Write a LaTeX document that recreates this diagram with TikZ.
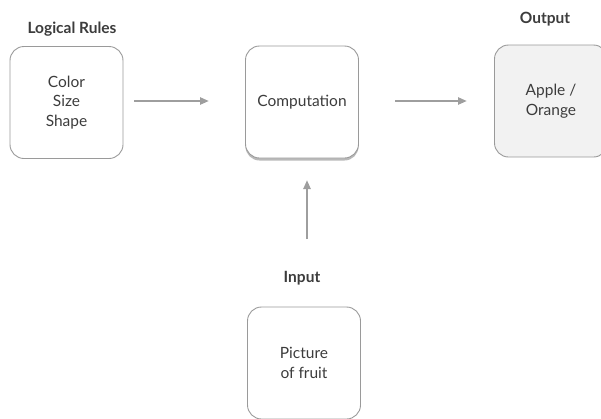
\documentclass[tikz,border=0pt]{standalone}
\usepackage{fontspec}
\setmainfont{Lato}
\usetikzlibrary{shadows,arrows.meta}
\definecolor{txt}{HTML}{3C3C3C}
\definecolor{edge}{HTML}{9A9A9A}
\definecolor{arr}{HTML}{9E9E9E}
\definecolor{outfill}{HTML}{F2F2F2}
\tikzset{
  box/.style={draw=edge, line width=0.9pt, rounded corners=14pt, minimum width=113pt, minimum height=112pt, align=center, text=txt, font=\fontsize{15.5}{19.5}\selectfont, inner sep=0pt},
  title/.style={text=txt, font=\bfseries\fontsize{15.5}{18}\selectfont, inner sep=0pt},
  conn/.style={draw=arr, line width=2.4pt, -{Triangle[length=9pt,width=7pt]}}
}
\begin{document}
\begin{tikzpicture}[x=1pt,y=-1pt]
\useasboundingbox (0,0) rectangle (601,418);
\clip (0,0) rectangle (601,418);
\node[box] (rules) at (66.5,102.5) {Color\\Size\\Shape};
\node[title] (rulesl) at (72,29) {Logical Rules};
\node[box, fill=white, drop shadow={shadow xshift=0pt, shadow yshift=-2.5pt, opacity=0.55}] (comp) at (302,102) {Computation};
\node[box, fill=outfill] (out) at (551,101) {Apple /\\Orange};
\node[title] (outl) at (545,19) {Output};
\node[box] (in) at (304,363) {Picture\\of fruit};
\node[title] (inl) at (302,278) {Input};
\coordinate (a1s) at (134,101);
\coordinate (a1e) at (209,101);
\coordinate (a2s) at (395,101);
\coordinate (a2e) at (467,101);
\coordinate (a3s) at (307,239);
\coordinate (a3e) at (307,180);
\draw[conn] (a1s) -- (a1e);
\draw[conn] (a2s) -- (a2e);
\draw[conn] (a3s) -- (a3e);
\end{tikzpicture}
\end{document}
